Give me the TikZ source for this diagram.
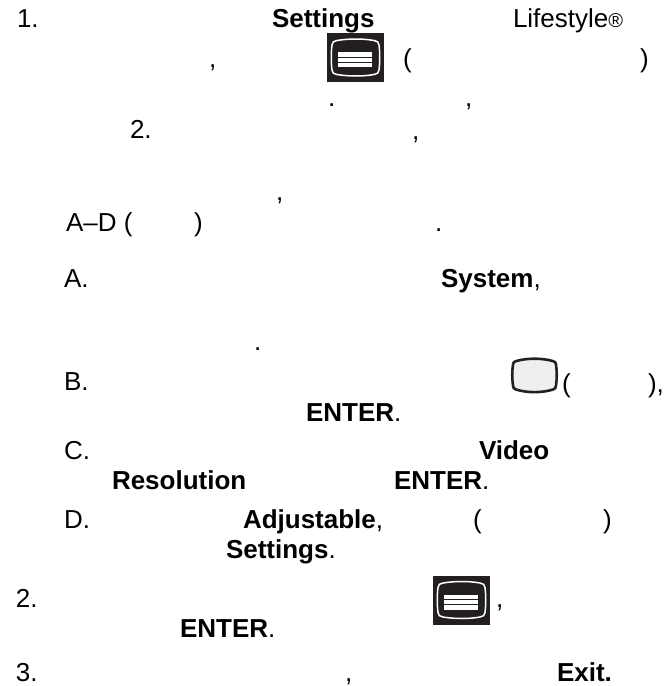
\documentclass[tikz,border=0pt]{standalone}
\usepackage{fontspec}
\setmainfont{Liberation Sans}
\definecolor{ink}{HTML}{231F20}
\definecolor{tvfill}{HTML}{EEEFF0}
\tikzset{
  txt/.style={anchor=base west,inner sep=0pt,outer sep=0pt,text=black,font=\fontsize{26}{30}\selectfont},
  menuicon/.pic={
    \fill[ink] (0,0) rectangle (57,49);
    \draw[white,line width=1.5pt] (5,12) .. controls (5,9) and (7,8) .. (10,7.5) .. controls (22,5.5) and (36,5.5) .. (47,7.5) .. controls (50,8) and (52,9) .. (52,12) .. controls (53,20) and (53,29) .. (52,37) .. controls (52,40) and (50,41) .. (47,41.5) .. controls (36,43.5) and (22,43.5) .. (10,41.5) .. controls (7,41) and (5,40) .. (5,37) .. controls (4,29) and (4,20) .. (5,12) -- cycle;
    \fill[white] (11,19) rectangle (45,34);
    \draw[ink,line width=.9pt] (11,24) -- (45,24) (11,29) -- (45,29);
  },
  tvicon/.pic={
    \draw[ink,fill=tvfill,line width=2.6pt,line join=round] (1,6) .. controls (1,4) and (2,3.2) .. (4,2.6) .. controls (15,-.6) and (30,-.6) .. (41,2.6) .. controls (43,3.2) and (44,4) .. (44,6) .. controls (45,13) and (45,20) .. (44,27) .. controls (44,29.5) and (43,30.5) .. (41,31) .. controls (30,34.5) and (15,34.5) .. (4,31) .. controls (2,30.5) and (1,29.5) .. (1,27) .. controls (0,20) and (0,13) .. (1,6) -- cycle;
  }
}
\newcommand{\T}[4]{\node[txt] (#1) at (#2,#3) {#4};}
\begin{document}
\begin{tikzpicture}[x=1pt,y=-1pt]
\useasboundingbox (0,0) rectangle (669,686);
\T{a1}{17}{27}{1.}
\T{a2}{272}{27}{\textbf{Settings}}
\T{a3}{513}{27}{Lifestyle\fontsize{20}{24}\selectfont ®}
\T{b1}{209}{67}{,}
\T{b2}{403}{67}{(}
\T{b3}{640}{67}{)}
\T{c1}{328}{106}{.}
\T{c2}{465}{106}{,}
\T{d1}{130}{138}{2.}
\T{d2}{412}{139}{,}
\T{e1}{276}{200}{,}
\T{f1}{66}{231}{A–D (}
\T{f2}{194}{231}{)}
\T{f3}{435}{231}{.}
\T{g1}{64}{287}{A.}
\T{g2}{441}{287}{\textbf{System},}
\T{h1}{254}{350}{.}
\T{i1}{64}{390}{B.}
\T{i2}{562}{392}{(}
\T{i3}{648}{392}{),}
\T{j1}{306}{421}{\textbf{ENTER}.}
\T{k1}{64}{459}{C.}
\T{k2}{479}{459}{\textbf{Video}}
\T{l1}{112}{489}{\textbf{Resolution}}
\T{l2}{394}{489}{\textbf{ENTER}.}
\T{m1}{64}{528}{D.}
\T{m2}{243}{528}{\textbf{Adjustable},}
\T{m3}{473}{528}{(}
\T{m4}{603}{528}{)}
\T{n1}{226}{558}{\textbf{Settings}.}
\T{o1}{16}{607}{2.}
\T{o2}{496}{607}{,}
\T{p1}{180}{637}{\textbf{ENTER}.}
\T{q1}{16}{681}{3.}
\T{q2}{345}{681}{,}
\T{q3}{557}{681}{\textbf{Exit.}}
\pic at (327,33) {menuicon};
\pic at (433,575.5) {menuicon};
\pic at (512,358.5) {tvicon};
\end{tikzpicture}
\end{document}
